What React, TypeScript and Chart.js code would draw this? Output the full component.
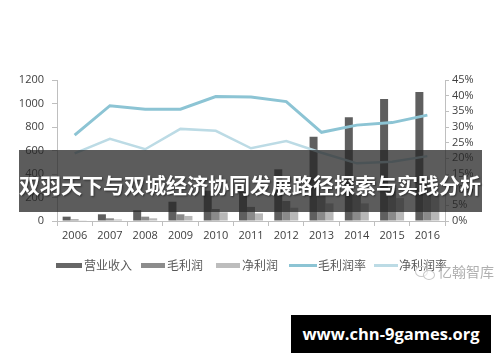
import React, { useEffect, useRef } from "react";
import { Chart, registerables } from "chart.js";

Chart.register(...registerables);

const years = ["2006", "2007", "2008", "2009", "2010", "2011", "2012", "2013", "2014", "2015", "2016"];
const revenue = [37, 57, 91, 164, 258, 248, 440, 717, 883, 1038, 1098];
const grossProfit = [14, 23, 37, 57, 102, 120, 170, 213, 220, 280, 320];
const netProfit = [6, 13, 23, 43, 74, 65, 113, 150, 150, 195, 215];
const grossMargin = [27.4, 36.8, 35.7, 35.7, 39.7, 39.6, 38.1, 28.3, 30.6, 31.4, 33.8];
const netMargin = [21.6, 26.2, 22.9, 29.4, 28.8, 23.2, 25.5, 21.8, 18.4, 18.9, 20.7];
const seriesNames = ["营业收入", "毛利润", "净利润", "毛利润率", "净利润率"];
const title = "双羽天下与双城经济协同发展路径探索与实践分析";
const siteText = "www.chn-9games.org";
const watermark = "亿翰智库";

const COLORS = {
  revenue: "#5f5f5f",
  gross: "#8a8a8a",
  net: "#b8b8b8",
  grossLine: "#8cc4d4",
  netLine: "#bcdbe5",
};

const tickFont = { family: "'Open Sans', 'Noto Sans', sans-serif", size: 11 };
const axisColor = "#bfbfbf";
const tickColor = "#404040";

export default function App() {
  const canvasRef = useRef<HTMLCanvasElement | null>(null);

  useEffect(() => {
    document.body.style.margin = "0";
    const ctx = canvasRef.current;
    if (!ctx) return;
    const chart = new Chart(ctx, {
      type: "bar",
      data: {
        labels: years,
        datasets: [
          {
            type: "line",
            label: seriesNames[3],
            data: grossMargin,
            yAxisID: "y1",
            borderColor: COLORS.grossLine,
            borderWidth: 3,
            pointRadius: 0,
            tension: 0,
            order: 0,
          },
          {
            type: "line",
            label: seriesNames[4],
            data: netMargin,
            yAxisID: "y1",
            borderColor: COLORS.netLine,
            borderWidth: 2.5,
            pointRadius: 0,
            tension: 0,
            order: 1,
          },
          {
            type: "bar",
            label: seriesNames[0],
            data: revenue,
            yAxisID: "y",
            backgroundColor: COLORS.revenue,
            barPercentage: 1,
            categoryPercentage: 0.68,
            order: 2,
          },
          {
            type: "bar",
            label: seriesNames[1],
            data: grossProfit,
            yAxisID: "y",
            backgroundColor: COLORS.gross,
            barPercentage: 1,
            categoryPercentage: 0.68,
            order: 3,
          },
          {
            type: "bar",
            label: seriesNames[2],
            data: netProfit,
            yAxisID: "y",
            backgroundColor: COLORS.net,
            barPercentage: 1,
            categoryPercentage: 0.68,
            order: 4,
          },
        ],
      },
      options: {
        animation: false,
        responsive: false,
        maintainAspectRatio: false,
        layout: { padding: { top: 80, bottom: 111, left: 0, right: 0 } },
        plugins: { legend: { display: false }, tooltip: { enabled: false } },
        scales: {
          x: {
            grid: {
              display: true,
              drawOnChartArea: false,
              offset: true,
              tickLength: 5,
              color: axisColor,
            },
            border: { display: true, color: axisColor },
            ticks: { color: tickColor, font: tickFont, maxRotation: 0, padding: 3, autoSkip: false },
            afterFit: (s: any) => {
              s.height = 30;
            },
          },
          y: {
            position: "left",
            min: 0,
            max: 1200,
            ticks: {
              stepSize: 200,
              color: tickColor,
              font: tickFont,
              padding: 8,
              autoSkip: false,
              callback: (v: any) => String(v),
            },
            grid: { drawOnChartArea: false, tickLength: 5, color: axisColor },
            border: { display: true, color: axisColor },
            afterFit: (s: any) => {
              s.width = 57;
            },
          },
          y1: {
            position: "right",
            min: 0,
            max: 45,
            ticks: {
              stepSize: 5,
              color: tickColor,
              font: tickFont,
              padding: 3,
              autoSkip: false,
              callback: (v: any) => v + "%",
            },
            grid: { drawOnChartArea: false, tickLength: 4, color: axisColor },
            border: { display: true, color: axisColor },
            afterFit: (s: any) => {
              s.width = 55;
            },
          },
        },
      },
    });
    return () => chart.destroy();
  }, []);

  const legendItems = [
    { name: seriesNames[0], color: "#666666", x: 56, w: 26, h: 5, tx: 84 },
    { name: seriesNames[1], color: "#8c8c8c", x: 141, w: 24, h: 5, tx: 167 },
    { name: seriesNames[2], color: "#bdbdbd", x: 216, w: 24, h: 5, tx: 242 },
    { name: seriesNames[3], color: COLORS.grossLine, x: 289, w: 28, h: 3, tx: 318 },
    { name: seriesNames[4], color: COLORS.netLine, x: 374, w: 24, h: 3, tx: 399 },
  ];
  const cjk = "'Noto Sans CJK SC', 'Noto Sans', sans-serif";

  return (
    <div style={{ position: "absolute", left: 0, top: 0, width: 500, height: 362, background: "#fff", overflow: "hidden" }}>
      <canvas ref={canvasRef} width={500} height={362} style={{ position: "absolute", left: 0, top: 0, width: 500, height: 362 }} />
      {legendItems.map((it) => (
        <React.Fragment key={it.name}>
          <div
            style={{
              position: "absolute",
              left: it.x,
              top: 265 - it.h / 2,
              width: it.w,
              height: it.h,
              background: it.color,
            }}
          />
          <div
            style={{
              position: "absolute",
              left: it.tx,
              top: 257,
              height: 16,
              lineHeight: "16px",
              fontSize: 12,
              fontFamily: cjk,
              color: "#595959",
              whiteSpace: "nowrap",
            }}
          >
            {it.name}
          </div>
        </React.Fragment>
      ))}
      <div style={{ position: "absolute", left: 415, top: 266, width: 11, height: 9, border: "1px solid #c8c8c8", borderRadius: "50%" }} />
      <div style={{ position: "absolute", left: 423, top: 270, width: 10, height: 8, border: "1px solid #c8c8c8", borderRadius: "50%", background: "rgba(255,255,255,0.6)" }} />
      <div
        style={{
          position: "absolute",
          left: 438,
          top: 262,
          height: 18,
          lineHeight: "18px",
          fontSize: 14,
          fontFamily: cjk,
          color: "#b0b0b0",
          whiteSpace: "nowrap",
        }}
      >
        {watermark}
      </div>
      <div
        style={{
          position: "absolute",
          left: 19,
          top: 150,
          width: 463,
          height: 62,
          background: "rgba(38,38,38,0.75)",
        }}
      />
      <div
        style={{
          position: "absolute",
          left: 0,
          top: 173,
          width: 500,
          height: 22,
          lineHeight: "22px",
          textAlign: "center",
          fontSize: 21,
          fontWeight: 700,
          fontFamily: cjk,
          color: "#ffffff",
          whiteSpace: "nowrap",
          textShadow: "1px 1px 2px rgba(0,0,0,0.5)",
        }}
      >
        {title}
      </div>
      <div
        style={{
          position: "absolute",
          left: 291,
          top: 315,
          width: 200,
          height: 38,
          background: "#000",
          color: "#fff",
          fontFamily: "'Open Sans', 'DejaVu Sans', sans-serif",
          fontWeight: 700,
          fontSize: 16.5,
          lineHeight: "38px",
          textAlign: "center",
          whiteSpace: "nowrap",
        }}
      >
        {siteText}
      </div>
    </div>
  );
}
